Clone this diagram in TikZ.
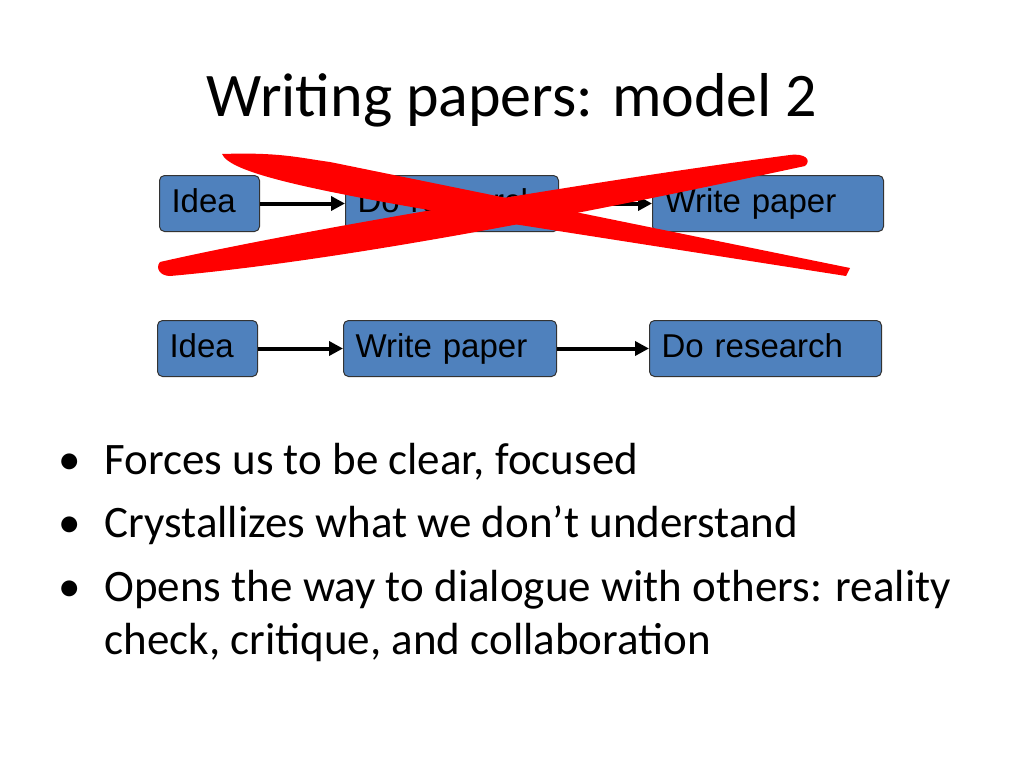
\documentclass[tikz,border=0pt]{standalone}
\usepackage{fontspec}
\setmainfont{Carlito}
\newfontfamily\boxfont{Liberation Sans}
\usetikzlibrary{arrows.meta}
\definecolor{boxblue}{RGB}{79,129,189}
\definecolor{crossred}{RGB}{255,0,0}
\tikzstyle{step} = [rectangle, rounded corners=5pt, draw=black!80, line width=1pt, fill=boxblue, anchor=north west, text width=#1, align=left, inner xsep=12pt, inner ysep=0pt, text height=25pt, text depth=8pt, font=\boxfont\fontsize{33}{36}\selectfont, minimum height=56pt]
\tikzstyle{arrow} = [line width=4pt, -{Triangle[length=14pt,width=14pt]}]
\tikzstyle{bullet} = [anchor=base west, font=\fontsize{45}{52}\selectfont, align=left]
\begin{document}
\begin{tikzpicture}[x=1pt, y=-1pt]
\useasboundingbox (0,0) rectangle (1024,768);
\node (title) at (512,100) {\fontsize{62}{66}\selectfont Writing papers: model 2};
% old model
\node (idea1) [step=76pt] at (159,175) {Idea};
\node (res1) [step=189pt] at (345,175) {Do research};
\node (paper1) [step=207pt] at (652,175) {Write paper};
\draw [arrow] (idea1) -- (res1);
\draw [arrow] (res1) -- (paper1);
% crossed out
\fill [crossred] (222,154) .. controls (280,152) and (300,158) .. (330,162) -- (850,268) -- (846,276) -- (520,225) .. controls (300,190) and (230,172) .. (222,154) -- cycle;
\fill [crossred] (160,262) .. controls (300,230) and (600,180) .. (790,155) .. controls (805,153) and (812,160) .. (805,166) .. controls (600,210) and (350,260) .. (170,276) .. controls (160,276) and (155,268) .. (160,262) -- cycle;
% new model
\node (idea2) [step=76pt] at (157,320) {Idea};
\node (paper2) [step=189pt] at (343,320) {Write paper};
\node (res2) [step=208pt] at (649,320) {Do research};
\draw [arrow] (idea2) -- (paper2);
\draw [arrow] (paper2) -- (res2);
% bullets
\node (b1) [bullet] at (55,474) {\makebox[46pt][l]{\textbullet}Forces us to be clear, focused};
\node (b2) [bullet] at (55,537) {\makebox[46pt][l]{\textbullet}Crystallizes what we don’t understand};
\node (b3) [bullet] at (55,601) {\makebox[46pt][l]{\textbullet}Opens the way to dialogue with others: reality};
\node (b4) [bullet] at (101,654) {check, critique, and collaboration};
\end{tikzpicture}
\end{document}
